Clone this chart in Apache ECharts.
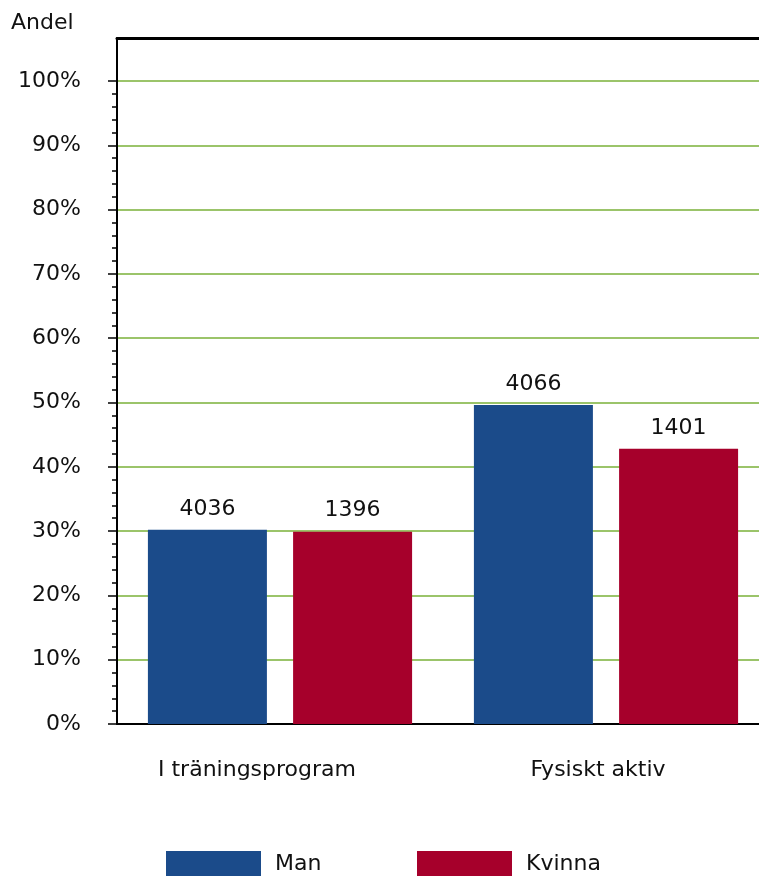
<!DOCTYPE html>
<html>
<head>
<meta charset="utf-8">
<script src="https://cdn.jsdelivr.net/npm/echarts@6/dist/echarts.min.js"></script>
<style>
  html, body { margin: 0; padding: 0; background: #fff; }
  #chart { width: 759px; height: 876px; }
</style>
</head>
<body>
<div id="chart"></div>
<script>
// Share of respondents (%) per group, with number of respondents shown above each bar
const categories = ['I träningsprogram', 'Fysiskt aktiv'];
const seriesNames = ['Man', 'Kvinna'];
const manShare = [30.2, 49.6];
const kvinnaShare = [29.9, 42.8];
const manCount = [4036, 4066];
const kvinnaCount = [1396, 1401];

const FONT = 'DejaVu Sans, Verdana, sans-serif';
const FS = 22;
const BLUE = '#1b4b8a';
const RED = '#a6002b';
const GREEN = '#9bc46a';

const chart = echarts.init(document.getElementById('chart'), null, { renderer: 'canvas' });

function barSeries(name, values, counts, color) {
  return {
    name: name,
    type: 'bar',
    xAxisIndex: 0,
    yAxisIndex: 0,
    data: values,
    barWidth: 119,
    barGap: '22%',
    itemStyle: { color: color },
    label: {
      show: true,
      position: 'top',
      distance: 10,
      fontFamily: FONT,
      fontSize: FS,
      color: '#111',
      formatter: p => String(counts[p.dataIndex])
    }
  };
}

function legendFor(name, left) {
  return {
    data: [name],
    left: left,
    top: 851,
    padding: 0,
    itemWidth: 95,
    itemHeight: 27,
    icon: 'rect',
    textStyle: { fontFamily: FONT, fontSize: FS, color: '#111', padding: [0, 0, 0, 9] }
  };
}

chart.setOption({
  animation: false,
  backgroundColor: '#fff',
  textStyle: { fontFamily: FONT },
  title: {
    text: 'Andel',
    left: 11,
    top: 12,
    padding: 0,
    textStyle: { fontFamily: FONT, fontSize: FS, fontWeight: 'normal', color: '#111' }
  },
  legend: [legendFor(seriesNames[0], 166), legendFor(seriesNames[1], 417)],
  grid: [
    // main plot, 0–100 %; runs slightly past the right edge of the canvas
    { left: 117, top: 81, width: 652, bottom: 152, containLabel: false, outerBoundsMode: 'none' },
    // frame strip above 100 % (top border and axis extension)
    { left: 117, top: 38, width: 652, height: 43, containLabel: false, outerBoundsMode: 'none' }
  ],
  xAxis: [
    {
      type: 'category',
      gridIndex: 0,
      data: categories.map((c, i) => ({
        value: c,
        textStyle: { padding: i === 0 ? [0, 46, 0, 0] : [0, 16, 0, 0] }
      })),
      axisLine: { show: true, lineStyle: { color: '#000', width: 2 } },
      axisTick: { show: false },
      axisLabel: { margin: 35, fontFamily: FONT, fontSize: FS, color: '#111' }
    },
    {
      type: 'category',
      gridIndex: 1,
      position: 'top',
      data: categories,
      axisLine: { show: true, onZero: false, lineStyle: { color: '#000', width: 3 } },
      axisTick: { show: false },
      axisLabel: { show: false }
    }
  ],
  yAxis: [
    {
      type: 'value',
      gridIndex: 0,
      min: 0,
      max: 100,
      interval: 10,
      axisLine: { show: true, lineStyle: { color: '#000', width: 2 } },
      axisTick: { show: true, length: 9, inside: false, lineStyle: { color: '#000', width: 1.5 } },
      minorTick: { show: true, splitNumber: 5, length: 5, lineStyle: { color: '#000', width: 1.5 } },
      splitLine: { show: true, lineStyle: { color: GREEN, width: 2 } },
      axisLabel: {
        margin: 36,
        fontFamily: FONT,
        fontSize: FS,
        color: '#111',
        formatter: v => v + '%'
      }
    },
    {
      type: 'value',
      gridIndex: 1,
      min: 0,
      max: 1,
      axisLine: { show: true, onZero: false, lineStyle: { color: '#000', width: 2 } },
      axisTick: { show: false },
      splitLine: { show: false },
      axisLabel: { show: false }
    }
  ],
  series: [
    barSeries(seriesNames[0], manShare, manCount, BLUE),
    barSeries(seriesNames[1], kvinnaShare, kvinnaCount, RED)
  ]
});
</script>
</body>
</html>
